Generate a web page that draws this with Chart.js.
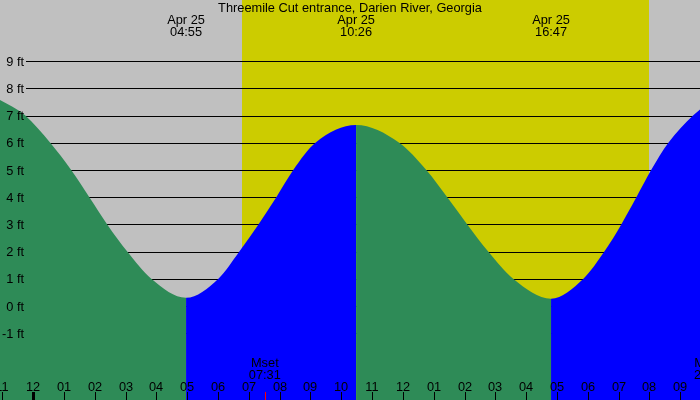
<!DOCTYPE html>
<html>
<head>
<meta charset="utf-8">
<script src="https://cdn.jsdelivr.net/npm/chart.js@4/dist/chart.umd.min.js"></script>
<style>
  html, body { margin: 0; padding: 0; background: #c0c0c0; }
  canvas { display: block; }
</style>
</head>
<body>
<canvas id="tide" width="700" height="400"></canvas>
<script>
// --- DATA (hours after midnight Apr 25, feet) ---
const titleText = 'Threemile Cut entrance, Darien River, Georgia';
const tideHours = [-1.081, -0.69, -0.26, 0.55, 1.23, 1.82, 2.40, 3.05, 3.83, 4.96,
                   6.01, 6.69, 7.31, 7.89, 8.44, 9.16, 10.48,
                   11.88, 12.76, 13.44, 14.09, 14.77, 15.58, 16.81,
                   17.86, 18.54, 19.09, 19.58, 20.06, 20.62, 21.42, 21.646];
const tideFeet  = [7.57, 7.33, 7, 6, 5, 4, 3, 2, 1, 0.3,
                   1, 2, 3, 4, 5, 6, 6.65,
                   6, 5, 4, 3, 2, 1, 0.27,
                   1, 2, 3, 4, 5, 6, 7, 7.22];

const extremeHours = [4.96, 10.48, 16.81];
const extremeDates = ['Apr 25', 'Apr 25', 'Apr 25'];
const extremeTimes = ['04:55', '10:26', '16:47'];

const sunHours = [6.783, 20.0];        // sunrise / sunset
const moonHours = [7.517, 21.97];
const moonNames = ['Mset', 'Mrise'];
const moonTimes = ['07:31', '21:58'];

const feetLevels = [-1, 0, 1, 2, 3, 4, 5, 6, 7, 8, 9];
const hourTicks  = [-1, 0, 1, 2, 3, 4, 5, 6, 7, 8, 9, 10, 11, 12, 13, 14, 15, 16, 17, 18, 19, 20, 21];
const hourLabels = ['11', '12', '01', '02', '03', '04', '05', '06', '07', '08', '09', '10',
                    '11', '12', '01', '02', '03', '04', '05', '06', '07', '08', '09'];

// --- COLOURS ---
const NIGHT = '#c0c0c0';
const DAY = '#cccc00';
const FALLING = '#2e8b57';
const RISING = '#0000ff';
const FONT = '12.8px "Liberation Sans", Arial, sans-serif';

const backdrop = {
  id: 'backdrop',
  beforeDraw(chart) {
    const { ctx, chartArea: a, scales: { x, y } } = chart;
    ctx.save();
    ctx.fillStyle = NIGHT;
    ctx.fillRect(0, 0, chart.width, chart.height);
    const x0 = x.getPixelForValue(sunHours[0]);
    const x1 = x.getPixelForValue(sunHours[1]);
    ctx.fillStyle = DAY;
    ctx.fillRect(Math.round(x0), a.top, Math.round(x1 - x0), a.bottom - a.top);
    // ft lines
    ctx.strokeStyle = '#000';
    ctx.lineWidth = 1;
    feetLevels.forEach(f => {
      const py = Math.round(y.getPixelForValue(f)) + 0.5;
      ctx.beginPath();
      ctx.moveTo(26, py);
      ctx.lineTo(a.right, py);
      ctx.stroke();
    });
    ctx.restore();
  },
  afterDraw(chart) {
    const { ctx, scales: { x, y } } = chart;
    ctx.save();
    ctx.font = FONT;
    ctx.fillStyle = '#000';
    ctx.textBaseline = 'middle';

    // y labels
    ctx.textAlign = 'right';
    feetLevels.forEach(f => ctx.fillText(f + ' ft', 24, y.getPixelForValue(f) + 1));

    ctx.textAlign = 'center';
    ctx.fillText(titleText, 350, 8);

    extremeHours.forEach((h, i) => {
      const px = x.getPixelForValue(h);
      ctx.fillText(extremeDates[i], px, 20);
      ctx.fillText(extremeTimes[i], px, 32);
    });

    // moon events
    moonHours.forEach((h, i) => {
      const px = x.getPixelForValue(h);
      ctx.fillStyle = '#000';
      ctx.fillText(moonNames[i], px, 363);
      ctx.fillText(moonTimes[i], px, 375);
      ctx.fillStyle = '#ff0000';
      ctx.fillRect(Math.round(px), 392, 1, 8);
    });

    // hour ticks
    ctx.fillStyle = '#000';
    hourTicks.forEach((h, i) => {
      const px = Math.round(x.getPixelForValue(h));
      ctx.fillText(hourLabels[i], px, 387);
      if (h === 0) ctx.fillRect(px - 1, 392, 3, 8);
      else ctx.fillRect(px, 392, 1, 8);
    });
    ctx.restore();
  }
};

new Chart(document.getElementById('tide'), {
  type: 'line',
  data: {
    datasets: [{
      data: tideHours.map((h, i) => ({ x: h, y: tideFeet[i] })),
      fill: 'start',
      borderWidth: 0,
      borderColor: 'transparent',
      backgroundColor: FALLING,
      pointRadius: 0,
      cubicInterpolationMode: 'monotone',
      segment: {
        backgroundColor: c => c.p1.parsed.y > c.p0.parsed.y ? RISING : FALLING
      }
    }]
  },
  options: {
    responsive: false,
    animation: false,
    layout: { padding: 0 },
    plugins: { legend: { display: false }, tooltip: { enabled: false } },
    scales: {
      x: { type: 'linear', min: -1.081, max: 21.646, display: false },
      y: { min: -3.456, max: 11.25, display: false }
    }
  },
  plugins: [backdrop]
});
</script>
</body>
</html>
